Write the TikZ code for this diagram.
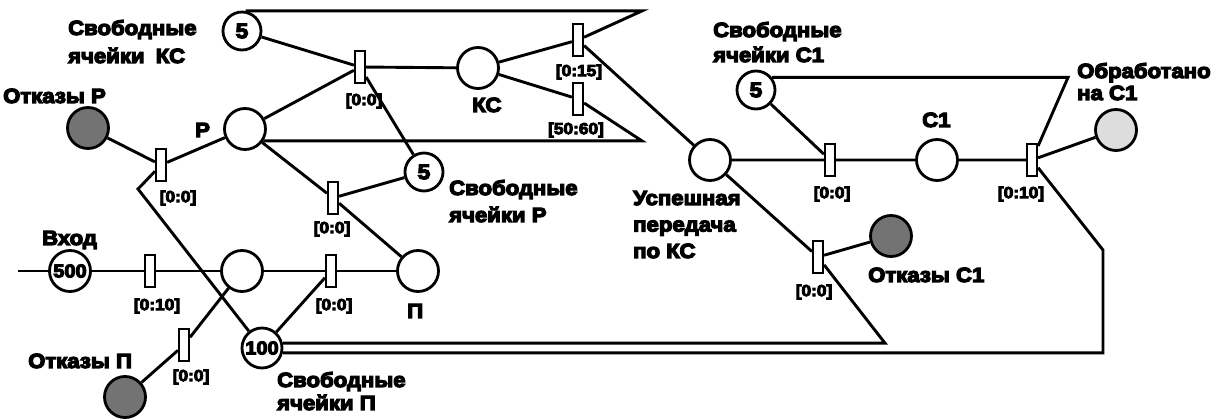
\documentclass[tikz,border=0pt]{standalone}
\usepackage{fontspec}
\setmainfont{Liberation Sans}
\newfontfamily\labf{Liberation Sans Bold}[FakeStretch=1.08,FakeBold=6]
\definecolor{otk}{RGB}{115,115,115}
\definecolor{obr}{RGB}{221,221,221}
\newcommand{\labstack}[2][25pt]{\vtop{\baselineskip=#1\relax\lineskiplimit=-30pt\relax\def\\{\egroup\hbox\bgroup}\hbox\bgroup#2\egroup}}
\tikzset{
  place/.style={circle, draw, line width=2.8pt, minimum size=41pt, inner sep=0pt, fill=white,
    font=\labf\fontsize{18.5}{19}\selectfont},
  tokplace/.style={place, minimum size=38pt, font=\labf\fontsize{21}{21}\selectfont},
  otkplace/.style={place, fill=otk},
  obrplace/.style={place, fill=obr},
  trans/.style={rectangle, draw, line width=2.2pt, fill=white, minimum width=10pt, minimum height=32pt, inner sep=0pt},
  arc/.style={line width=2.9pt},
  lbl/.style={font=\labf\fontsize{20.5}{25}\selectfont, inner sep=0pt, anchor=base west},
  tlab/.style={font=\labf\fontsize{16}{16}\selectfont, inner sep=0pt}
}
\begin{document}
\begin{tikzpicture}[x=1pt,y=-1pt]
\useasboundingbox (0,0) rectangle (1229,419);
% places
\node[tokplace] (pKS5) at (242,31) {5};
\node[otkplace] (pOR) at (88,128) {};
\node[place] (pR) at (245,129) {};
\node[place] (pKS) at (478,68) {};
\node[tokplace] (pR5) at (424,172) {5};
\node[place] (pP) at (418,271) {};
\node[place] (pIn) at (70,271) {500};
\node[place] (pM) at (242,271) {};
\node[place, minimum size=40pt] (p100) at (262,348) {100};
\node[otkplace] (pOP) at (125,397) {};
\node[place] (pUsp) at (710,160) {};
\node[tokplace] (pC15) at (756,90) {5};
\node[place] (pC1) at (937,160) {};
\node[otkplace] (pOC1) at (891,236) {};
\node[obrplace] (pObr) at (1116,130) {};
% transitions
\node[trans] (tOR) at (161,165) {};
\node[trans] (tTop) at (360,67) {};
\node[trans] (t015) at (578,40) {};
\node[trans] (t5060) at (578,99) {};
\node[trans] (tRmid) at (333,198) {};
\node[trans] (t010) at (150,271) {};
\node[trans] (tPin) at (331,271) {};
\node[trans] (tOP) at (184,345) {};
\node[trans] (tC1in) at (830,160) {};
\node[trans] (tOC1) at (818,257) {};
\node[trans] (tC1out) at (1032,160) {};
% free coordinates
\coordinate (cIn) at (18,271);
\coordinate (cKink) at (138,189);
\coordinate (cTR) at (642,12);
\coordinate (cBR) at (642,142);
\coordinate (cC1R) at (1068,77);
\coordinate (cB1) at (885,343);
\coordinate (cB2) at (1103,250);
% arcs
\draw[arc] (cIn) -- (pIn);
\draw[arc] (pIn) -- (t010) -- (pM) -- (tPin) -- (pP);
\draw[arc] (p100) -- (tPin);
\draw[arc] (pM) -- (tOP) -- (pOP);
\draw[arc] (pOR) -- (tOR) -- (pR);
\draw[arc] (tOR) -- (cKink) -- (p100);
\draw[arc] (pR) -- (tTop);
\draw[arc] (pKS5) -- (tTop) -- (pKS);
\draw[arc] (tTop) -- (pR5);
\draw[arc] (pR) -- (tRmid) -- (pP);
\draw[arc] (pR5) -- (tRmid);
\draw[arc] (pKS) -- (t015);
\draw[arc] (pKS) -- (t5060);
\draw[arc] (pKS5.80) -- (pKS5.80 -| cTR) -- (t015);
\draw[arc] (pR.-33) -- (pR.-33 -| cBR) -- (t5060);
\draw[arc] (t015) -- (pUsp);
\draw[arc] (pUsp) -- (tC1in) -- (pC1) -- (tC1out) -- (pObr);
\draw[arc] (pC15) -- (tC1in);
\draw[arc] (pC15.38) -- (pC15.38 -| cC1R) -- (tC1out);
\draw[arc] (pUsp) -- (tOC1) -- (pOC1);
\draw[arc] (tOC1) -- (p100.13 -| cB1) -- (p100.13);
\draw[arc] (tC1out) -- (cB2) -- (p100.-13 -| cB2) -- (p100.-13);
% transition labels
\node[tlab] (lOR) at (178,198) {[0:0]};
\node[tlab] (lTop) at (364,101) {[0:0]};
\node[tlab] (l015) at (579,72) {[0:15]};
\node[tlab] (l5060) at (576,130) {[50:60]};
\node[tlab] (lRmid) at (332,229) {[0:0]};
\node[tlab] (l010) at (157,306) {[0:10]};
\node[tlab] (lPin) at (334,306) {[0:0]};
\node[tlab] (lOP) at (191,377) {[0:0]};
\node[tlab] (lC1in) at (832,194) {[0:0]};
\node[tlab] (lOC1) at (814,292) {[0:0]};
\node[tlab] (lC1out) at (1021,194) {[0:10]};
% place labels
\node[lbl] (nKS5) at (68,35) {\labstack[28pt]{Свободные\\ячейки\hspace{0.55em}КС}};
\node[lbl] (nOR) at (3,103) {Отказы Р};
\node[lbl] (nR) at (195,137) {Р};
\node[lbl] (nKS) at (472,112) {КС};
\node[lbl] (nR5) at (449,195) {\labstack[27pt]{Свободные\\ячейки Р}};
\node[lbl] (nIn) at (42,245) {Вход};
\node[lbl] (nP) at (407,318) {П};
\node[lbl] (nOP) at (28,368) {Отказы П};
\node[lbl] (n100) at (277,387) {\labstack[23pt]{Свободные\\ячейки П}};
\node[lbl] (nUsp) at (633,205) {\labstack[26.5pt]{Успешная\\передача\\по КС}};
\node[lbl] (nC15) at (713,37) {\labstack[25pt]{Свободные\\ячейки С1}};
\node[lbl] (nC1) at (922,127) {С1};
\node[lbl] (nOC1) at (868,282) {Отказы С1};
\node[lbl] (nObr) at (1077,78) {\labstack[22pt]{Обработано\\на С1}};
\end{tikzpicture}
\end{document}
